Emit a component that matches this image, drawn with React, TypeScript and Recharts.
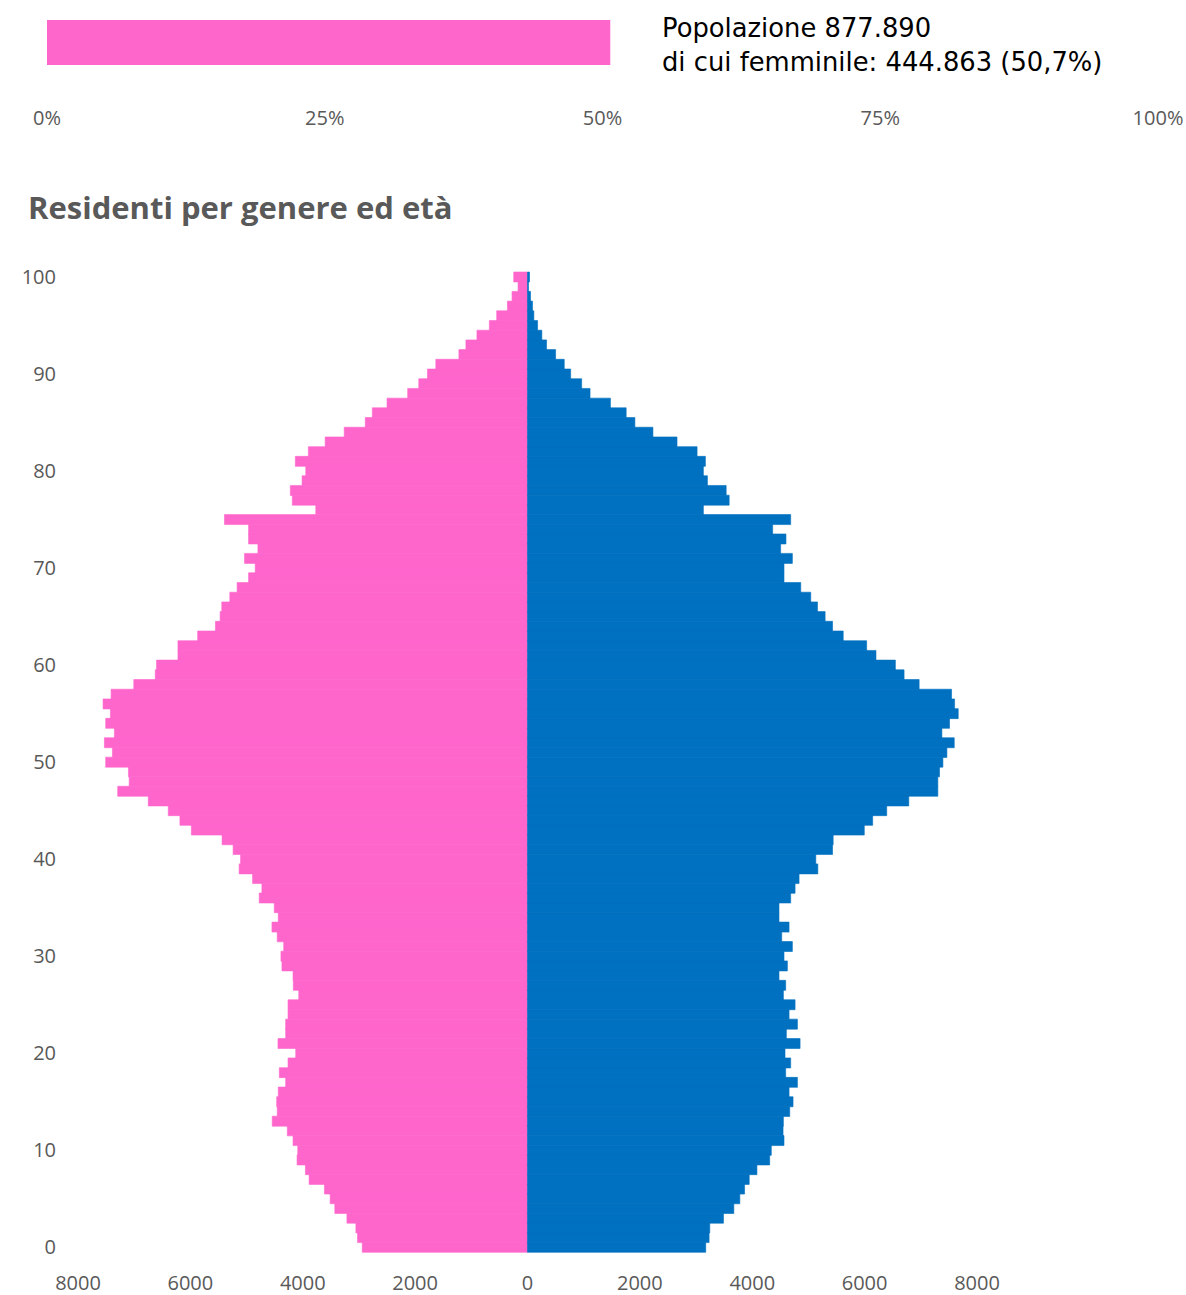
import { BarChart, Bar, XAxis, YAxis } from 'recharts';

// top bar: share of female residents
const shareCategory = ['Femmine'];
const femaleShare = [50.7];
const shareTicks = [0, 25, 50, 75, 100];

// pyramid: residents by age (0..100)
const ages = Array.from({ length: 101 }, (_, i) => i);
const femaleValues = [
  2941, 3025, 3054, 3214, 3429, 3512, 3614, 3887, 3953, 4101,
  4089, 4173, 4275, 4543, 4454, 4464, 4436, 4304, 4417, 4262,
  4125, 4441, 4304, 4304, 4262, 4262, 4071, 4168, 4173, 4370,
  4388, 4339, 4454, 4548, 4436, 4507, 4775, 4727, 4893, 5132,
  5107, 5239, 5436, 5982, 6186, 6393, 6750, 7293, 7089, 7102,
  7507, 7387, 7530, 7352, 7507, 7423, 7554, 7411, 7007, 6625,
  6602, 6221, 6221, 5870, 5554, 5471, 5441, 5298, 5168, 4964,
  4846, 5036, 4798, 4964, 4964, 5393, 3768, 4186, 4221, 4012,
  3946, 4132, 3900, 3601, 3262, 2887, 2762, 2500, 2132, 1935,
  1780, 1632, 1221, 1096, 900, 679, 548, 357, 275, 168,
  245,
];
const maleValues = [
  3172, 3232, 3244, 3488, 3672, 3779, 3863, 3946, 4083, 4310,
  4339, 4565, 4548, 4554, 4667, 4726, 4655, 4804, 4595, 4684,
  4583, 4851, 4607, 4804, 4655, 4762, 4554, 4595, 4476, 4625,
  4565, 4714, 4524, 4655, 4476, 4476, 4684, 4762, 4833, 5167,
  5131, 5429, 5440, 5994, 6143, 6393, 6786, 7303, 7303, 7333,
  7393, 7464, 7595, 7375, 7511, 7666, 7601, 7547, 6970, 6702,
  6547, 6202, 6036, 5619, 5429, 5297, 5161, 5041, 4863, 4565,
  4565, 4714, 4505, 4600, 4363, 4684, 3130, 3589, 3536, 3202,
  3130, 3166, 3018, 2661, 2232, 1911, 1756, 1476, 1113, 964,
  768, 654, 500, 339, 255, 179, 113, 89, 54, 18,
  36,
];
const pyramidTicks = [-8000, -6000, -4000, -2000, 0, 2000, 4000, 6000, 8000];

const PINK = '#FF66CC';
const BLUE = '#0070C0';
const GREY = '#595959';
const tickStyle = { fill: GREY, fontSize: 20, fontFamily: '"Open Sans", sans-serif' };

export default function App() {
  const shareData = shareCategory.map((name, i) => ({ name, value: femaleShare[i] }));
  const pyramidData = ages.map((age, i) => ({
    age,
    female: -femaleValues[i],
    male: maleValues[i],
  }));

  return (
    <div style={{ position: 'absolute', left: 0, top: 0, width: 1186, height: 1295, background: '#fff' }}>
      <div style={{ position: 'absolute', left: 0, top: 0 }}>
        <BarChart
          width={1186}
          height={150}
          data={shareData}
          layout="vertical"
          barCategoryGap={0}
          margin={{ top: 20, right: 28, left: 47, bottom: 0 }}
        >
          <XAxis
            type="number"
            domain={[0, 100]}
            ticks={shareTicks}
            tickFormatter={(v: number) => `${v}%`}
            axisLine={false}
            tickLine={false}
            tickSize={0}
            tickMargin={46}
            height={85}
            tick={tickStyle}
          />
          <YAxis type="category" dataKey="name" hide />
          <Bar dataKey="value" fill={PINK} isAnimationActive={false} />
        </BarChart>
      </div>

      <div
        style={{
          position: 'absolute',
          left: 662,
          top: 11,
          fontFamily: '"DejaVu Sans", sans-serif',
          fontSize: 25.8,
          lineHeight: '34px',
          color: '#000',
          whiteSpace: 'nowrap',
        }}
      >
        <div>Popolazione 877.890</div>
        <div>di cui femminile: 444.863 (50,7%)</div>
      </div>

      <div
        style={{
          position: 'absolute',
          left: 28,
          top: 187,
          fontFamily: '"Open Sans", sans-serif',
          fontWeight: 700,
          fontSize: 31,
          lineHeight: '40px',
          color: GREY,
          whiteSpace: 'nowrap',
        }}
      >
        Residenti per genere ed età
      </div>

      <div style={{ position: 'absolute', left: 0, top: 240 }}>
        <BarChart
          width={1186}
          height={1055}
          data={pyramidData}
          layout="vertical"
          stackOffset="sign"
          barCategoryGap={0}
          margin={{ top: 32, right: 209, left: 0, bottom: 3 }}
        >
          <XAxis
            type="number"
            domain={[-8000, 8000]}
            ticks={pyramidTicks}
            tickFormatter={(v: number) => `${Math.abs(v)}`}
            axisLine={false}
            tickLine={false}
            tickSize={0}
            tickMargin={24}
            height={40}
            tick={tickStyle}
          />
          <YAxis
            type="category"
            dataKey="age"
            reversed
            width={78}
            interval={0}
            tickFormatter={(v: number) => (v % 10 === 0 ? `${v}` : '')}
            axisLine={false}
            tickLine={false}
            tickSize={0}
            tickMargin={22}
            tick={tickStyle}
          />
          <Bar dataKey="female" stackId="p" fill={PINK} stroke={PINK} strokeWidth={0.6} isAnimationActive={false} />
          <Bar dataKey="male" stackId="p" fill={BLUE} stroke={BLUE} strokeWidth={0.6} isAnimationActive={false} />
        </BarChart>
      </div>
    </div>
  );
}
